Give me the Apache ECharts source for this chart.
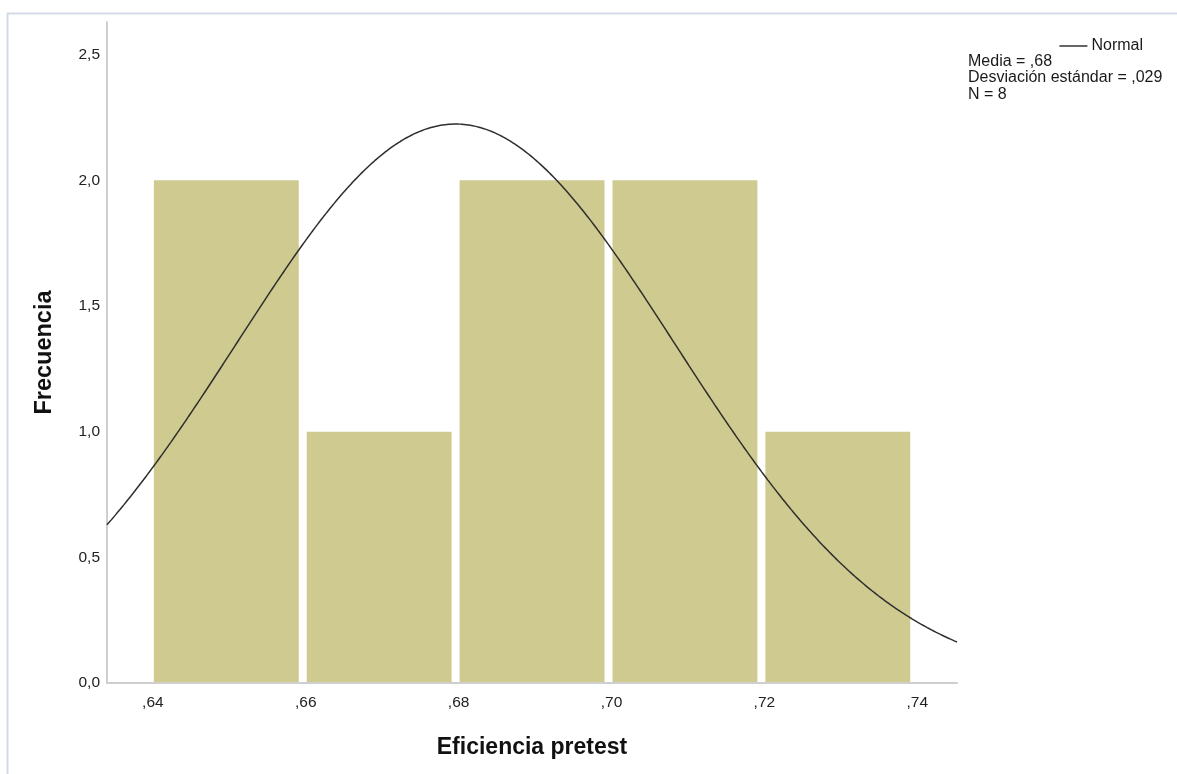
<!DOCTYPE html>
<html>
<head>
<meta charset="utf-8">
<title>Eficiencia pretest</title>
<script src="https://cdn.jsdelivr.net/npm/echarts@6/dist/echarts.min.js"></script>
<style>
  html, body { margin: 0; padding: 0; background: #ffffff; }
  #chart { width: 1177px; height: 774px; }
</style>
</head>
<body>
<div id="chart"></div>
<script>
// Histogram bins (lower / upper edges) and their counts
const binLower = [0.64, 0.66, 0.68, 0.70, 0.72];
const binUpper = [0.66, 0.68, 0.70, 0.72, 0.74];
const frequencies = [2, 1, 2, 2, 1];

// Tick labels on both axes
const xTicks = [0.64, 0.66, 0.68, 0.70, 0.72, 0.74];
const yTicks = [0, 0.5, 1.0, 1.5, 2.0, 2.5];

// Summary statistics of the sample
const MEAN = 0.6796;
const SD = 0.0287;
const N = 8;
const BIN_WIDTH = 0.02;

const X_MIN = 0.634, X_MAX = 0.7452;
const Y_MIN = 0, Y_MAX = 2.63;

// Fitted normal curve scaled to counts per bin
const normalCurve = [];
for (let i = 0; i <= 400; i++) {
  const x = X_MIN + (X_MAX - X_MIN) * i / 400;
  const z = (x - MEAN) / SD;
  const y = N * BIN_WIDTH / (SD * Math.sqrt(2 * Math.PI)) * Math.exp(-0.5 * z * z);
  normalCurve.push([x, y]);
}

const bars = binLower.map((lo, i) => [lo, binUpper[i], frequencies[i]]);

const fmtX = v => v.toFixed(2).replace(/^0\./, ',');
const fmtY = v => v.toFixed(1).replace('.', ',');
const fmtStat = (v, d) => v.toFixed(d).replace(/^0\./, ',');

const FONT = '"Liberation Sans", Arial, sans-serif';

const chart = echarts.init(document.getElementById('chart'), null, { renderer: 'canvas' });

chart.setOption({
  backgroundColor: '#ffffff',
  animation: false,
  textStyle: { fontFamily: FONT },
  grid: { left: 107, right: 220, top: 22, bottom: 91 },
  graphic: [
    {
      type: 'rect',
      left: 5, top: 11,
      shape: { width: 1200, height: 800 },
      style: { fill: 'none', stroke: '#d5dbe6', lineWidth: 2 },
      silent: true, z: -1
    },
    {
      type: 'text',
      left: 968, top: 53,
      style: {
        text: 'Media = ' + fmtStat(MEAN, 2) + '\nDesviación estándar = ' + fmtStat(SD, 3) + '\nN = ' + N,
        font: '16px ' + FONT,
        fill: '#1a1a1a',
        lineHeight: 16.7
      }
    }
  ],
  legend: {
    data: [{ name: 'Normal', icon: 'rect' }],
    right: 29, top: 33,
    itemWidth: 28, itemHeight: 1.5, itemGap: 4,
    textStyle: { fontSize: 16, color: '#1a1a1a', fontFamily: FONT, padding: [0, 0, 0, -1] },
    itemStyle: { color: '#333333' }
  },
  xAxis: {
    type: 'value',
    min: X_MIN, max: X_MAX,
    name: 'Eficiencia pretest',
    nameLocation: 'middle',
    nameGap: 53,
    nameTextStyle: { fontSize: 23, fontWeight: 'bold', color: '#111111', fontFamily: FONT },
    axisLine: { show: true, lineStyle: { color: '#cfcfcf', width: 2 } },
    axisTick: { show: false },
    splitLine: { show: false },
    axisLabel: {
      customValues: xTicks,
      formatter: fmtX,
      fontSize: 15.5, color: '#222222', margin: 12, fontFamily: FONT
    }
  },
  yAxis: {
    type: 'value',
    min: Y_MIN, max: Y_MAX,
    name: 'Frecuencia',
    nameLocation: 'middle',
    nameGap: 50,
    nameTextStyle: { fontSize: 23.5, fontWeight: 'bold', color: '#111111', fontFamily: FONT },
    axisLine: { show: true, lineStyle: { color: '#cfcfcf', width: 2 } },
    axisTick: { show: false },
    splitLine: { show: false },
    axisLabel: {
      customValues: yTicks,
      formatter: fmtY,
      fontSize: 15.5, color: '#222222', margin: 7, fontFamily: FONT,
      padding: [6, 0, 0, 0]
    }
  },
  series: [
    {
      name: 'Frecuencia',
      type: 'custom',
      data: bars,
      encode: { x: [0, 1], y: 2 },
      renderItem: (params, api) => {
        const top = api.coord([api.value(0), api.value(2)]);
        const bottom = api.coord([api.value(1), 0]);
        return {
          type: 'rect',
          shape: {
            x: top[0] + 1,
            y: top[1],
            width: bottom[0] - top[0] - 8,
            height: bottom[1] - top[1] - 1
          },
          style: { fill: '#cfca8f' }
        };
      },
      z: 1
    },
    {
      name: 'Normal',
      type: 'line',
      data: normalCurve,
      showSymbol: false,
      symbol: 'none',
      smooth: false,
      clip: true,
      lineStyle: { color: '#2e2e2e', width: 1.5 },
      itemStyle: { color: '#2e2e2e' },
      z: 3
    }
  ]
});
</script>
</body>
</html>
